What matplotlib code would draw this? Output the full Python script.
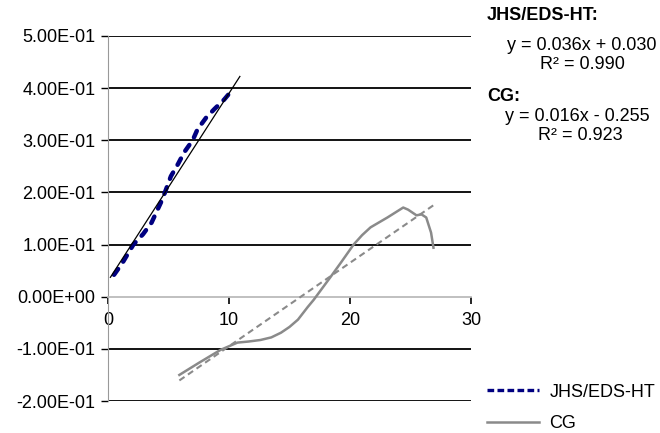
import matplotlib.pyplot as plt
from matplotlib.lines import Line2D

plt.rcParams['font.family'] = ['Liberation Sans', 'DejaVu Sans']

# JHS/EDS-HT data
jhs_x = [0.5, 1.2, 2.1, 2.9, 3.6, 4.5, 5.2, 5.8, 6.3, 7.0, 7.4, 8.1, 8.8, 9.6, 10.4]
jhs_y = [0.042, 0.065, 0.100, 0.120, 0.142, 0.187, 0.231, 0.255, 0.277, 0.300, 0.321, 0.343, 0.360, 0.378, 0.400]

# CG data
cg_x = [5.9, 7.5, 9.3, 10.7, 11.6, 12.6, 13.5, 14.3, 15.0, 15.7, 16.5, 17.0, 17.7, 18.4,
        19.3, 20.3, 21.0, 21.7, 23.1, 24.4, 24.8, 25.5, 25.9, 26.3, 26.7, 26.9]
cg_y = [-0.150, -0.127, -0.102, -0.088, -0.086, -0.083, -0.078, -0.069, -0.058, -0.044,
        -0.020, -0.006, 0.016, 0.038, 0.067, 0.100, 0.118, 0.133, 0.152, 0.171, 0.167,
        0.156, 0.158, 0.152, 0.123, 0.094]

# linear trends
jhs_fit = (0.036, 0.030, 0.990)
cg_fit = (0.016, -0.255, 0.923)
jhs_trend_x = [0.2, 10.9]
cg_trend_x = [5.9, 26.9]

y_ticks = [-0.2, -0.1, 0.0, 0.1, 0.2, 0.3, 0.4, 0.5]
y_labels = ['-2.00E-01', '-1.00E-01', '0.00E+00', '1.00E-01', '2.00E-01',
            '3.00E-01', '4.00E-01', '5.00E-01']
x_ticks = [0, 10, 20, 30]

fig = plt.figure(figsize=(6.6, 4.33), dpi=100)
ax = fig.add_axes([0.1636, 0.0739, 0.55, 0.843])

for t in y_ticks:
    if t != 0:
        ax.axhline(t, color='black', lw=1.3, zorder=1)

ax.plot(jhs_x, jhs_y, color='#000080', lw=3.2, ls=(0, (1.6, 2.0)),
        solid_capstyle='round', dash_capstyle='round', zorder=3)
ax.plot(jhs_trend_x, [jhs_fit[0] * x + jhs_fit[1] for x in jhs_trend_x],
        color='black', lw=0.9, zorder=4)
ax.plot(cg_x, cg_y, color='#8a8a8a', lw=1.8, zorder=3)
ax.plot(cg_trend_x, [cg_fit[0] * x + cg_fit[1] for x in cg_trend_x],
        color='#8a8a8a', lw=1.5, ls=(0, (3, 2)), zorder=3)

ax.set_xlim(0, 30)
ax.set_ylim(-0.2, 0.5)
ax.spines['top'].set_visible(False)
ax.spines['right'].set_visible(False)
ax.spines['left'].set_color('#999999')
ax.spines['bottom'].set_position(('data', 0))
ax.spines['bottom'].set_color('#bbbbbb')
ax.spines['bottom'].set_linewidth(1.3)
ax.set_yticks(y_ticks)
ax.set_yticklabels(y_labels)
ax.set_xticks(x_ticks)
ax.tick_params(axis='y', length=5, width=1, color='black', labelsize=13, pad=4)
ax.tick_params(axis='x', length=5, width=1.2, color='black', labelsize=13, pad=6)

# equations on the right
fs = 13
fig.text(0.738, 0.965, 'JHS/EDS-HT:', fontsize=fs, fontweight='bold', va='center')
fig.text(0.995, 0.894, 'y = %.3fx + %.3f' % (jhs_fit[0], jhs_fit[1]), fontsize=fs, ha='right', va='center')
fig.text(0.883, 0.850, 'R² = %.3f' % jhs_fit[2], fontsize=fs, ha='center', va='center')
fig.text(0.739, 0.776, 'CG:', fontsize=fs, fontweight='bold', va='center')
fig.text(0.985, 0.730, 'y = %.3fx - %.3f' % (cg_fit[0], -cg_fit[1]), fontsize=fs, ha='right', va='center')
fig.text(0.879, 0.686, 'R² = %.3f' % cg_fit[2], fontsize=fs, ha='center', va='center')

handles = [Line2D([], [], color='#000080', lw=2.4, ls=(0, (2, 1))),
           Line2D([], [], color='#8a8a8a', lw=1.8)]
fig.legend(handles, ['JHS/EDS-HT', 'CG'], loc='center left', bbox_to_anchor=(0.738, 0.058),
           frameon=False, fontsize=fs, handlelength=2.9, handletextpad=0.55,
           labelspacing=0.8, borderpad=0, borderaxespad=0)

fig.savefig('out.png', dpi=100)
